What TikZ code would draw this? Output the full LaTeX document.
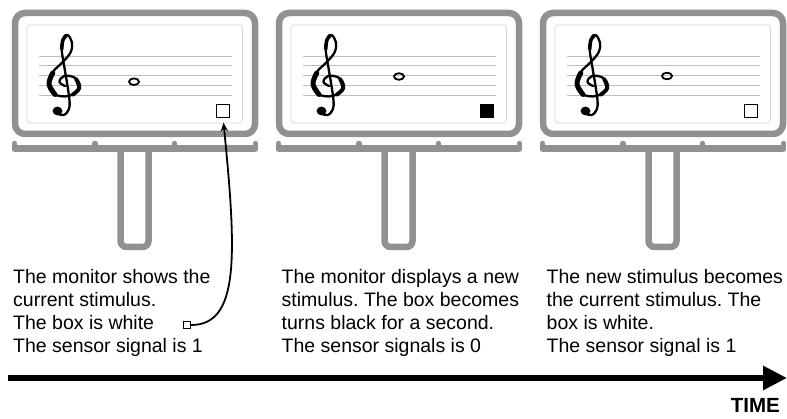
\documentclass[tikz,border=0pt]{standalone}
\usepackage{fontspec}
\setmainfont{Liberation Sans}
\usetikzlibrary{arrows.meta,calc}
\definecolor{frame-gray}{RGB}{145,145,145}
\definecolor{staff-gray}{RGB}{190,190,190}
\definecolor{screen-gray}{RGB}{208,208,208}

\tikzset{
	caption/.style={anchor=base west, align=left, inner sep=0pt,
		font=\fontsize{19.5}{23}\selectfont},
	sensorbox/.style={draw=black, line width=0.8pt, minimum size=12.5pt, inner sep=0pt},
	monitorline/.style={frame-gray, line width=6.5pt},
	clefpen/.style={line cap=round, line join=round},
	% Treble clef drawn as strokes around its centre
	trebleclef/.pic={
		\draw[clefpen, line width=2.3pt] plot[smooth, tension=0.65] coordinates {
			(1,9) (-4,5) (0,-1) (10,1) (14,11) (4,19) (-9,17) (-14,7) (-10,-5)
			(-1,-15) (6,-25) (7,-35) (3,-42) (-1,-37) (-2,-27) (0,-12) (3,8)
			(5,25) (4,33) (0,38) (-5,37)};
		\draw[clefpen, line width=5pt] plot[smooth, tension=0.65] coordinates {
			(-8,17.5) (-13.4,7) (-10,-4)};
		\draw[clefpen, line width=4pt] plot[smooth, tension=0.65] coordinates {
			(11,2.5) (13.6,11) (8,17.5)};
		\draw[clefpen, line width=3.6pt] plot[smooth, tension=0.65] coordinates {
			(2,-41.5) (-1,-37) (-2,-28)};
		\fill (-5.8,34) circle (4.4);
	}
}

\begin{document}
\frenchspacing
\begin{tikzpicture}[x=1pt,y=-1pt]
	\useasboundingbox (0,0) rectangle (787,419);
	
	% Three monitors, one per moment
	\foreach \i/\dx/\nx/\ny/\boxfill in {1/0/134/81.7/white, 2/264/135/76.5/black, 3/528/139/76/white}{
		\begin{scope}[xshift=\dx pt]
			% Stand and shelf
			\draw[monitorline, rounded corners=6pt] (120.5,150) -- (120.5,247) -- (148.5,247) -- (148.5,150);
			\draw[frame-gray, line width=7pt, line cap=round] (15.5,149) -- (254.5,149);
			\foreach \bx in {14.5,95,174.3,255.5}
				\draw[frame-gray, line width=5.5pt, line cap=round] (\bx,143.5) -- (\bx,149);
			
			% Frame and screen
			\draw[monitorline, rounded corners=10pt] (15,13) rectangle (255,134);
			\draw[screen-gray, line width=0.6pt, rounded corners=3pt] (27,25) rectangle (242.5,123);
			
			% Staff, clef and note
			\foreach \k in {0,...,4}
				\draw[staff-gray, line width=0.7pt] (39,56+9.8*\k) -- (232,56+9.8*\k);
			\pic[xscale=1.12] at (64,77) {trebleclef};
			\draw[line width=1.8pt] (\nx,\ny) ellipse [x radius=5, y radius=3.3];
			
			% Sensor box
			\node[sensorbox, fill=\boxfill] (box\i) at (223,111) {};
		\end{scope}
	}
	
	% Captions (anchored at the last baseline)
	\node[caption] (txt1) at (13,353) {The monitor shows the\\current stimulus.\\The box is white\\The sensor signal is 1};
	\node[caption] (txt2) at (281.5,353) {The monitor displays a new\\stimulus. The box becomes\\turns black for a second.\\The sensor signals is 0};
	\node[caption] (txt3) at (546.5,353) {The new stimulus becomes\\the current stimulus. The\\box is white.\\The sensor signal is 1};
	
	% Pointer from the caption to the box
	\node[draw, line width=1pt, minimum size=7pt, inner sep=0pt] (whitemark) at (187,325) {};
	\draw[line width=1.8pt, -{Stealth[length=9pt,width=7.5pt]}, shorten >=5pt]
		(whitemark.east) .. controls +(48,0) and +(14,140) .. (box1.south);
	
	% Time axis
	\coordinate (tstart) at (8,378);
	\coordinate (tend) at (787,378);
	\draw[line width=6pt, -{Triangle[length=24pt,width=23pt]}] (tstart) -- (tend);
	\node[anchor=base east, inner sep=0pt, font=\bfseries\fontsize{20.5}{20.5}\selectfont] (timelabel) at (780,413) {TIME};
\end{tikzpicture}
\end{document}
